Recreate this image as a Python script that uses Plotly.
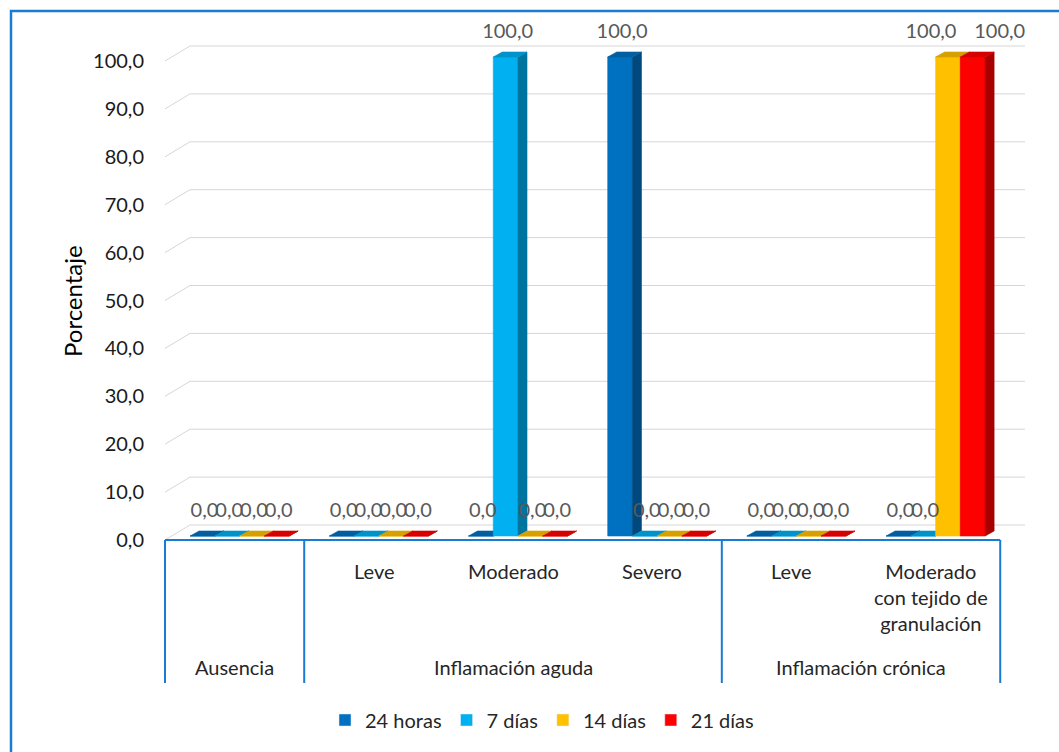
import plotly.graph_objects as go

# ---- data -------------------------------------------------------------
grupos = ["Ausencia", "Inflamación aguda", "Inflamación crónica"]
grupo_tam = [1, 3, 2]
subcategorias = ["", "Leve", "Moderado", "Severo", "Leve",
                 "Moderado<br>con tejido de<br>granulación"]
series = ["24 horas", "7 días", "14 días", "21 días"]
colores = ["#0070C0", "#00B0F0", "#FFC000", "#FF0000"]

v_24h = [0.0, 0.0, 0.0, 100.0, 0.0, 0.0]
v_7d = [0.0, 0.0, 100.0, 0.0, 0.0, 0.0]
v_14d = [0.0, 0.0, 0.0, 0.0, 0.0, 100.0]
v_21d = [0.0, 0.0, 0.0, 0.0, 0.0, 100.0]
valores = [v_24h, v_7d, v_14d, v_21d]

y_ticks = [0, 10, 20, 30, 40, 50, 60, 70, 80, 90, 100]

# ---- geometry / style -------------------------------------------------
W, H = 1059, 752
L, R, T, B = 165, 34, 20, 212
PW, PH = W - L - R, H - T - B
X_RANGE = [-0.5, 5.678]
Y_RANGE = [0.0, 108.56]
px_x = PW / (X_RANGE[1] - X_RANGE[0])
px_y = PH / (Y_RANGE[1] - Y_RANGE[0])

AZUL = "#1a7bd3"
FONT = "Lato"

wall_dx, wall_dy = 25 / px_x, 15 / px_y       # depth of back wall
bar_w = 24.75 / px_x                          # bar width
bar_shift = 5 / px_x                          # bars sit mid-depth
bar_z = 4 / px_y                              # front face lift
bar_dx, bar_dy = 9 / px_x, 5 / px_y           # bar depth
lab_dy = 28 / px_y                            # data label offset


def shade(hex_color, k):
    h = hex_color.lstrip("#")
    r, g, b = (int(h[i:i + 2], 16) for i in (0, 2, 4))
    return "#%02x%02x%02x" % (int(r * k), int(g * k), int(b * k))


def fmt(v):
    return f"{v:.1f}".replace(".", ",")


def poly(xs, ys, color):
    return go.Scatter(x=xs + [xs[0]], y=ys + [ys[0]], mode="lines",
                      fill="toself", fillcolor=color,
                      line=dict(color=color, width=0.6),
                      hoverinfo="skip", showlegend=False)


fig = go.Figure()

# legend entries
for s, c in zip(series, colores):
    fig.add_trace(go.Bar(x=[None], y=[None], name=s, marker_color=c))

# back-wall gridlines with the left depth edge
gx, gy = [], []
for t in y_ticks:
    gx += [X_RANGE[0], X_RANGE[0] + wall_dx, X_RANGE[1], None]
    gy += [t, t + wall_dy, t + wall_dy, None]
fig.add_trace(go.Scatter(x=gx, y=gy, mode="lines",
                         line=dict(color="#d6d6d6", width=1),
                         hoverinfo="skip", showlegend=False))

# 3D columns, drawn left to right so nearer faces cover hidden sides
n_cat = len(subcategorias)
for i in range(n_cat):
    for j, (vals, c) in enumerate(zip(valores, colores)):
        v = vals[i]
        xc = i + bar_shift + (j - 1.5) * bar_w
        xl, xr = xc - bar_w / 2, xc + bar_w / 2
        y0, y1 = bar_z, bar_z + v
        fig.add_trace(poly([xl, xr, xr, xl], [y0, y0, y1, y1], c))
        fig.add_trace(poly([xr, xr + bar_dx, xr + bar_dx, xr],
                           [y0, y0 + bar_dy, y1 + bar_dy, y1], shade(c, 0.66)))
        fig.add_trace(poly([xl, xr, xr + bar_dx, xl + bar_dx],
                           [y1, y1, y1 + bar_dy, y1 + bar_dy], shade(c, 0.84)))

# data labels; neighbouring non-zero labels are spread apart
nudge = [[0.0] * n_cat for _ in series]
for i in range(n_cat):
    for j in range(len(series) - 1):
        if valores[j][i] > 0 and valores[j + 1][i] > 0:
            nudge[j][i] -= 19
            nudge[j + 1][i] += 25
for j, vals in enumerate(valores):
    xs = [i + bar_shift + (j - 1.5) * bar_w + (2 + nudge[j][i]) / px_x
          for i in range(n_cat)]
    fig.add_trace(go.Scatter(x=xs, y=[v + lab_dy for v in vals], mode="text",
                             text=[fmt(v) for v in vals],
                             textposition="middle center",
                             textfont=dict(family=FONT, size=20, color="#595959"),
                             cliponaxis=False, hoverinfo="skip",
                             showlegend=False))


def py(pix):
    return (H - B - pix) / PH


def px(xv):
    return (xv - X_RANGE[0]) / (X_RANGE[1] - X_RANGE[0])


shapes = []
# category axis line
shapes.append(dict(type="line", xref="paper", yref="paper",
                   x0=px(-0.5), x1=px(n_cat - 0.5), y0=0, y1=0,
                   line=dict(color=AZUL, width=2)))
# group dividers
bounds = [-0.5]
for g in grupo_tam:
    bounds.append(bounds[-1] + g)
for b in bounds:
    shapes.append(dict(type="line", xref="paper", yref="paper",
                       x0=px(b), x1=px(b), y0=0, y1=py(683),
                       line=dict(color=AZUL, width=2)))
# chart frame
shapes.append(dict(type="rect", xref="paper", yref="paper",
                   x0=(11 - L) / PW, x1=(W + 20 - L) / PW,
                   y0=py(H + 20), y1=py(11),
                   line=dict(color=AZUL, width=2.5)))

annotations = []
for i, s in enumerate(subcategorias):
    if s:
        annotations.append(dict(text=s, xref="x", yref="paper", x=i, y=py(557),
                                xanchor="center", yanchor="top", showarrow=False,
                                font=dict(family=FONT, size=20, color="#262626")))
start = 0
for g, n in zip(grupos, grupo_tam):
    annotations.append(dict(text=g, xref="x", yref="paper",
                            x=start + (n - 1) / 2, y=py(667),
                            xanchor="center", yanchor="middle", showarrow=False,
                            font=dict(family=FONT, size=20, color="#262626")))
    start += n
annotations.append(dict(text="Porcentaje", textangle=-90, xref="paper",
                        yref="paper", x=0, xshift=72 - L, y=py(301),
                        xanchor="center", yanchor="middle", showarrow=False,
                        font=dict(family=FONT, size=24, color="#000000")))

fig.update_layout(
    width=W, height=H,
    margin=dict(l=L, r=R, t=T, b=B),
    paper_bgcolor="white", plot_bgcolor="white",
    separators=",.",
    font=dict(family=FONT, size=20, color="#262626"),
    xaxis=dict(range=X_RANGE, showgrid=False, zeroline=False,
               showticklabels=False, showline=False, fixedrange=True),
    yaxis=dict(range=Y_RANGE, tickvals=y_ticks, tickformat=".1f",
               showgrid=False, zeroline=False, showline=False,
               ticks="outside", ticklen=16, tickcolor="rgba(0,0,0,0)",
               tickfont=dict(family=FONT, size=20, color="#1a1a1a"),
               fixedrange=True),
    legend=dict(orientation="h", x=(542 - L) / PW, xanchor="center",
                y=py(720), yanchor="middle",
                font=dict(family=FONT, size=20, color="#262626")),
    shapes=shapes,
    annotations=annotations,
    showlegend=True,
)

fig.write_html("out.html")
